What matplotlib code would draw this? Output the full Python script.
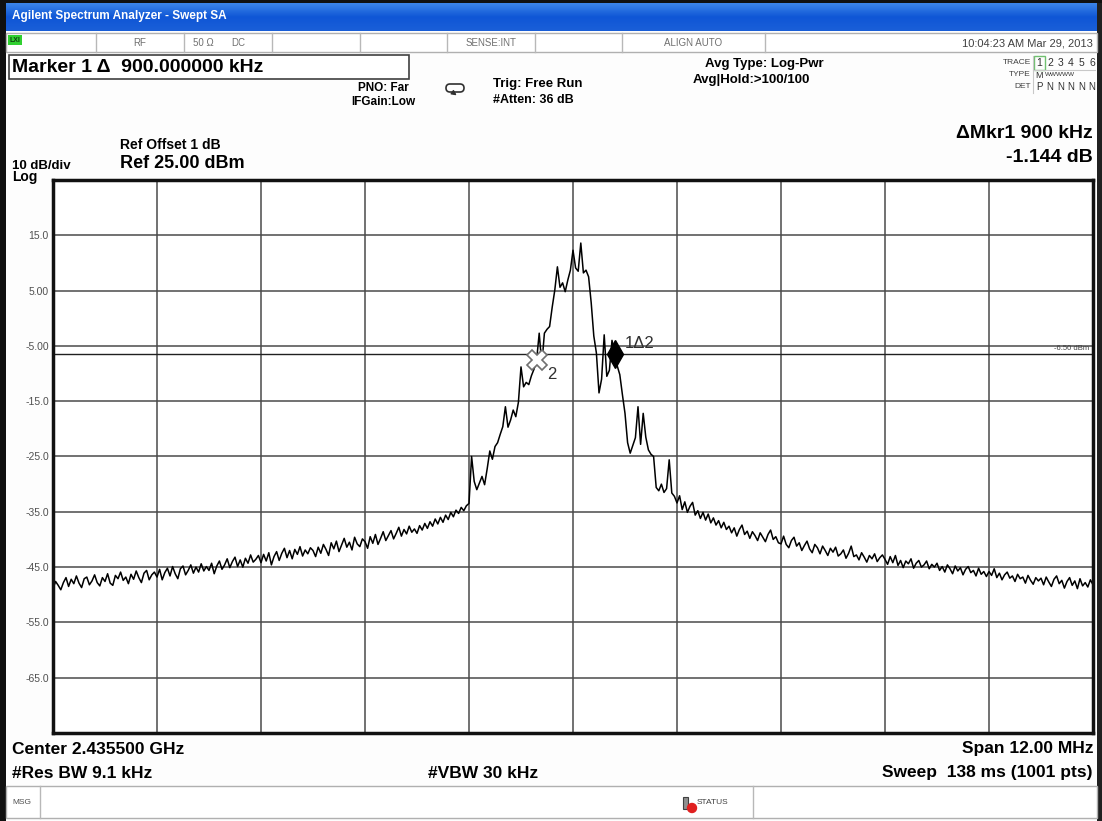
import numpy as np
import matplotlib.pyplot as plt
from matplotlib.patches import Rectangle, FancyBboxPatch

plt.rcParams['font.family'] = ['Liberation Sans', 'DejaVu Sans']

# ---- data ----
center_ghz = 2.4355
span_mhz = 12.0
ref_level = 25.0
db_per_div = 10.0

# frequency offset from center, MHz (0.03 MHz spacing)
freq_offset = np.linspace(-6.0, 6.0, 401)

# trace 1 level, dBm -- lower skirt (-6.00 .. -1.23 MHz)
level_low = [
    -48.9, -47.6, -48.3, -49.1, -47.8, -46.9, -48.5, -47.2, -48.0, -46.6,
    -47.9, -48.7, -47.1, -46.8, -48.2, -47.5, -46.4, -47.8, -48.4, -46.9,
    -47.6, -46.2, -47.9, -48.3, -46.5, -47.1, -45.9, -47.4, -46.8, -48.0,
    -46.3, -47.2, -45.7, -46.9, -47.8, -46.1, -45.6, -47.3, -46.4, -45.9,
    -46.8, -45.4, -47.3, -46.0, -45.2, -46.6, -44.9, -46.2, -47.1, -45.3,
    -44.8, -46.4, -45.6, -44.6, -46.1, -45.0, -45.9, -44.4, -45.7, -44.9,
    -45.6, -44.3, -46.2, -44.8, -43.9, -45.4, -44.6, -43.5, -45.1, -44.0,
    -43.2, -44.9, -43.7, -45.0, -43.4, -44.3, -42.8, -44.1, -43.6, -42.9,
    -44.2, -42.7, -43.9, -42.4, -44.6, -43.1, -42.2, -43.8, -42.5, -41.6,
    -43.3, -42.0, -43.5, -41.8, -42.7, -41.3, -43.0, -41.9, -42.6, -41.5,
    -42.0, -43.1, -41.4, -42.5, -40.9, -41.8, -42.9, -40.6, -41.7, -40.3,
    -42.2, -41.0, -39.8, -41.4, -40.5, -41.9, -39.6, -40.8, -41.3, -39.9,
    -40.4, -41.6, -39.5, -40.7, -39.1, -40.9, -39.8, -38.6, -40.2, -39.3,
    -38.4, -39.9, -38.9, -37.8, -39.4, -38.2, -39.0, -37.6, -38.7, -38.1,
    -38.9, -37.5, -38.3, -37.1, -38.0, -36.8, -37.6, -36.3, -37.2, -36.0,
    -36.9, -35.6, -36.4, -35.1, -35.9, -34.7, -35.3, -34.2, -34.8, -33.9,
]
# carrier (-1.20 .. +1.17 MHz)
level_core = [
    -33.5, -25.0, -29.5, -31.0, -29.8, -28.6, -30.1, -27.2, -24.0, -25.5,
    -23.2, -22.5, -21.0, -19.6, -16.0, -19.7, -18.4, -16.6, -17.8, -15.2,
    -8.8, -12.4, -11.6, -12.0, -10.4, -9.2, -7.6, -2.7, -8.4, -2.7,
    -2.0, -1.5, 2.0, 5.1, 9.3, 5.6, 6.4, 4.8, 6.9, 8.7,
    12.3, 9.1, 8.5, 13.6, 8.2, 8.7, 7.5, 2.8, -3.2, -6.3,
    -13.5, -11.0, -3.0, -10.5, -9.4, -4.0, -6.4, -8.6, -10.2, -13.8,
    -17.2, -22.5, -24.4, -23.0, -21.6, -16.0, -22.8, -17.2, -21.5, -23.8,
    -24.6, -25.0, -30.6, -31.2, -30.0, -31.5, -30.8, -25.6, -31.6, -32.2,
]
# upper skirt (+1.20 .. +6.00 MHz)
level_high = [
    -33.4, -32.1, -34.6, -33.2, -35.1, -34.0, -33.3, -35.6, -34.8, -36.2,
    -35.1, -36.5, -35.4, -37.0, -36.1, -37.4, -36.6, -37.9, -36.9, -38.2,
    -37.6, -38.8, -37.9, -39.4, -38.2, -37.4, -39.1, -38.5, -39.8, -38.6,
    -39.3, -40.2, -38.8, -39.6, -40.4, -39.1, -38.3, -40.0, -39.5, -40.6,
    -40.8, -39.4, -40.9, -41.5, -40.2, -39.6, -41.2, -40.6, -42.0, -41.1,
    -40.3, -41.7, -42.4, -40.9, -41.5, -42.6, -41.2, -42.0, -42.9, -41.6,
    -42.3, -41.4, -43.0, -42.6, -41.9, -43.4, -42.5, -41.2, -43.1, -42.8,
    -43.7, -42.4, -43.2, -44.1, -42.9, -43.5, -42.6, -44.0, -43.3, -42.8,
    -43.6, -44.5, -43.1, -44.2, -42.9, -44.7, -43.8, -45.1, -43.9, -44.4,
    -43.5, -45.2, -44.3, -43.8, -45.0, -44.6, -43.9, -45.3, -44.5, -45.0,
    -44.3, -45.6, -44.9, -45.9, -44.6, -45.3, -46.2, -44.8, -45.7, -45.1,
    -46.4, -45.4, -44.9, -46.0, -45.6, -46.6, -45.2, -46.3, -45.8, -46.7,
    -45.8, -46.5, -45.3, -46.9, -46.1, -47.3, -46.4, -45.9, -47.0, -46.6,
    -47.6, -46.3, -47.1, -46.8, -47.9, -46.5, -47.4, -48.1, -46.9, -47.5,
    -47.0, -48.2, -46.8, -47.7, -48.5, -47.2, -46.6, -48.0, -47.4, -48.8,
    -47.6, -46.9, -48.3, -47.5, -48.9, -47.1, -48.4, -47.8, -48.6, -47.3,
    -48.2,
]
level = level_low + level_core + level_high

ytick_vals = [15, 5, -5, -15, -25, -35, -45, -55, -65]
ytick_labels = ["15.0", "5.00", "-5.00", "-15.0", "-25.0", "-35.0", "-45.0", "-55.0", "-65.0"]

mkr_freq = [0.48, -0.42]      # marker 1 (delta), marker 2 (reference)
display_line = -6.5

W, H = 1102, 821
fig = plt.figure(figsize=(W / 100, H / 100), dpi=100, facecolor='#fdfdfd')

# overlay in pixel coordinates for the instrument chrome
ov = fig.add_axes([0, 0, 1, 1])
ov.set_xlim(0, W)
ov.set_ylim(H, 0)
ov.axis('off')


def txt(x, y, s, size, ha='left', weight='bold', color='black', **kw):
    ov.text(x, y, s, fontsize=size, ha=ha, va='center', fontweight=weight,
            color=color, **kw)


# window frame
ov.add_patch(Rectangle((0, 0), W, H, fc='#fdfdfd', ec='none'))
ov.add_patch(Rectangle((0, 0), 6, H, fc='#101010', ec='none'))
ov.add_patch(Rectangle((W - 5, 0), 5, H, fc='#202020', ec='none'))
ov.add_patch(Rectangle((0, 0), W, 3, fc='#101010', ec='none'))

# title bar
grad = np.linspace(0, 1, 30).reshape(-1, 1)
ov.imshow(grad, extent=(6, W - 5, 31, 3), cmap=plt.matplotlib.colors.LinearSegmentedColormap.from_list(
    'xp', ['#3b84e8', '#0f56d6', '#1a5fd8']), aspect='auto', zorder=1)
txt(12, 16, "Agilent Spectrum Analyzer - Swept SA", 8.5, color='white', zorder=3)

# status row
ov.add_patch(Rectangle((6, 33), W - 11, 19, fc='white', ec='#b0b0b0', lw=1))
for sx in [96, 184, 272, 360, 447, 535, 622, 765]:
    ov.plot([sx, sx], [33, 52], color='#b8b8b8', lw=1)
ov.add_patch(Rectangle((8, 35), 14, 10, fc='#30d030', ec='none'))
txt(15, 40, "LXI", 5, ha='center', color='#104010')
txt(140, 43, "RF", 7, ha='center', weight='normal', color='#707070')
txt(203, 43, "50 Ω", 7, ha='center', weight='normal', color='#707070')
txt(238, 43, "DC", 7, ha='center', weight='normal', color='#707070')
txt(491, 43, "SENSE:INT", 7, ha='center', weight='normal', color='#707070')
txt(693, 43, "ALIGN AUTO", 7, ha='center', weight='normal', color='#707070')
txt(1093, 43, "10:04:23 AM Mar 29, 2013", 8, ha='right', weight='normal', color='#404040')

# marker readout box
ov.add_patch(Rectangle((9, 55), 400, 24, fc='white', ec='#404040', lw=1.2))
txt(12, 67, "Marker 1 Δ  900.000000 kHz", 14)

txt(383, 88, "PNO: Far", 8.5, ha='center')
txt(383, 102, "IFGain:Low", 8.5, ha='center')
ov.add_patch(FancyBboxPatch((446, 84), 18, 8, boxstyle='round,pad=0,rounding_size=4',
                            fc='none', ec='#303030', lw=1.2))
ov.annotate('', xy=(459, 97), xytext=(452, 92),
            arrowprops=dict(arrowstyle='-|>', color='#303030', lw=1, mutation_scale=7))
txt(493, 84, "Trig: Free Run", 9.5)
txt(493, 100, "#Atten: 36 dB", 9)
txt(705, 64, "Avg Type: Log-Pwr", 9.5)
txt(693, 80, "Avg|Hold:>100/100", 9.5)

# trace table
txt(1031, 63, "TRACE", 6, ha='right', weight='normal', color='#404040')
txt(1031, 75, "TYPE", 6, ha='right', weight='normal', color='#404040')
txt(1031, 87, "DET", 6, ha='right', weight='normal', color='#404040')
ov.add_patch(Rectangle((1034, 56), 11, 14, fc='none', ec='#70c070', lw=1))
ov.plot([1033, 1095], [70, 70], color='#c8c8c8', lw=0.8)
ov.plot([1033, 1033], [56, 93], color='#c8c8c8', lw=0.8)
for k, ch in enumerate("123456"):
    txt(1039.5 + 10.5 * k, 63, ch, 7.5, ha='center', weight='normal', color='#303030')
for k, ch in enumerate("PNNNNN"):
    txt(1039.5 + 10.5 * k, 87, ch, 7, ha='center', weight='normal', color='#303030')
txt(1039.5, 75, "M", 6.5, ha='center', weight='normal', color='#303030')
txt(1045, 75, "WWWWW", 4.6, weight='normal', color='#303030')

# reference / scale text
txt(120, 145, "Ref Offset 1 dB", 10)
txt(120, 163, "Ref 25.00 dBm", 13)
txt(12, 166, "10 dB/div", 9.5)
txt(12, 177, "Log", 10)
txt(1093, 134, "ΔMkr1 900 kHz", 14, ha='right')
txt(1093, 157, "-1.144 dB", 14, ha='right')

# bottom annotations
txt(12, 749, "Center 2.435500 GHz", 12.5)
txt(12, 773, "#Res BW 9.1 kHz", 12.5)
txt(428, 773, "#VBW 30 kHz", 12.5)
txt(1093, 749, "Span 12.00 MHz", 12.5, ha='right')
txt(1093, 773, "Sweep  138 ms (1001 pts)", 12.5, ha='right')

# message row
ov.add_patch(Rectangle((6, 786), W - 11, 32, fc='white', ec='#b0b0b0', lw=1))
for sx in [40, 753]:
    ov.plot([sx, sx], [786, 818], color='#b8b8b8', lw=1)
txt(12, 803, "MSG", 6, weight='normal', color='#505050')
ov.add_patch(Rectangle((683, 797), 5, 12, fc='#909090', ec='#404040', lw=0.8))
ov.add_patch(plt.Circle((692, 808), 4.5, fc='#e02020', ec='#e02020'))
txt(697, 803, "STATUS", 6, weight='normal', color='#404040')

# ---- the spectrum graticule ----
ax = fig.add_axes([53 / W, (H - 733) / H, 1040 / W, 553 / H])
ax.set_facecolor('white')
ax.set_xlim(-span_mhz / 2, span_mhz / 2)
ax.set_ylim(ref_level - 10 * db_per_div, ref_level)
ax.set_xticks(np.arange(-4.8, 4.81, 1.2))
ax.set_yticks(ytick_vals)
ax.set_yticklabels(ytick_labels, fontsize=7.5, color='#505050')
ax.tick_params(axis='both', length=0, pad=3)
ax.tick_params(axis='x', labelbottom=False)
ax.grid(True, color='#4a4a4a', lw=1.1)
for sp in ax.spines.values():
    sp.set_linewidth(2.5)
    sp.set_color('#111111')

# display line
ax.axhline(display_line, color='#202020', lw=1.0)
ax.text(5.95, display_line + 0.4, "-6.50 dBm", fontsize=5.5, ha='right', va='bottom',
        color='#404040')

ax.plot(freq_offset, level, color='black', lw=1.1)

# markers
lv = np.array(level)
i1 = int(np.argmin(np.abs(freq_offset - mkr_freq[0])))
i2 = int(np.argmin(np.abs(freq_offset - mkr_freq[1])))
ax.plot(freq_offset[i2], lv[i2], marker='X', ms=14, mfc='white', mec='#707070', mew=1.2, zorder=5)
ax.text(freq_offset[i2] + 0.12, lv[i2] - 2.5, "2", fontsize=12, color='#303030', va='center')
ax.plot(freq_offset[i1], lv[i1], marker='d', ms=14, color='black', zorder=5)
ax.text(freq_offset[i1] + 0.12, lv[i1] + 1.8, "1Δ2", fontsize=12, color='#303030', va='center')

plt.savefig("out.png", dpi=100, facecolor=fig.get_facecolor())
